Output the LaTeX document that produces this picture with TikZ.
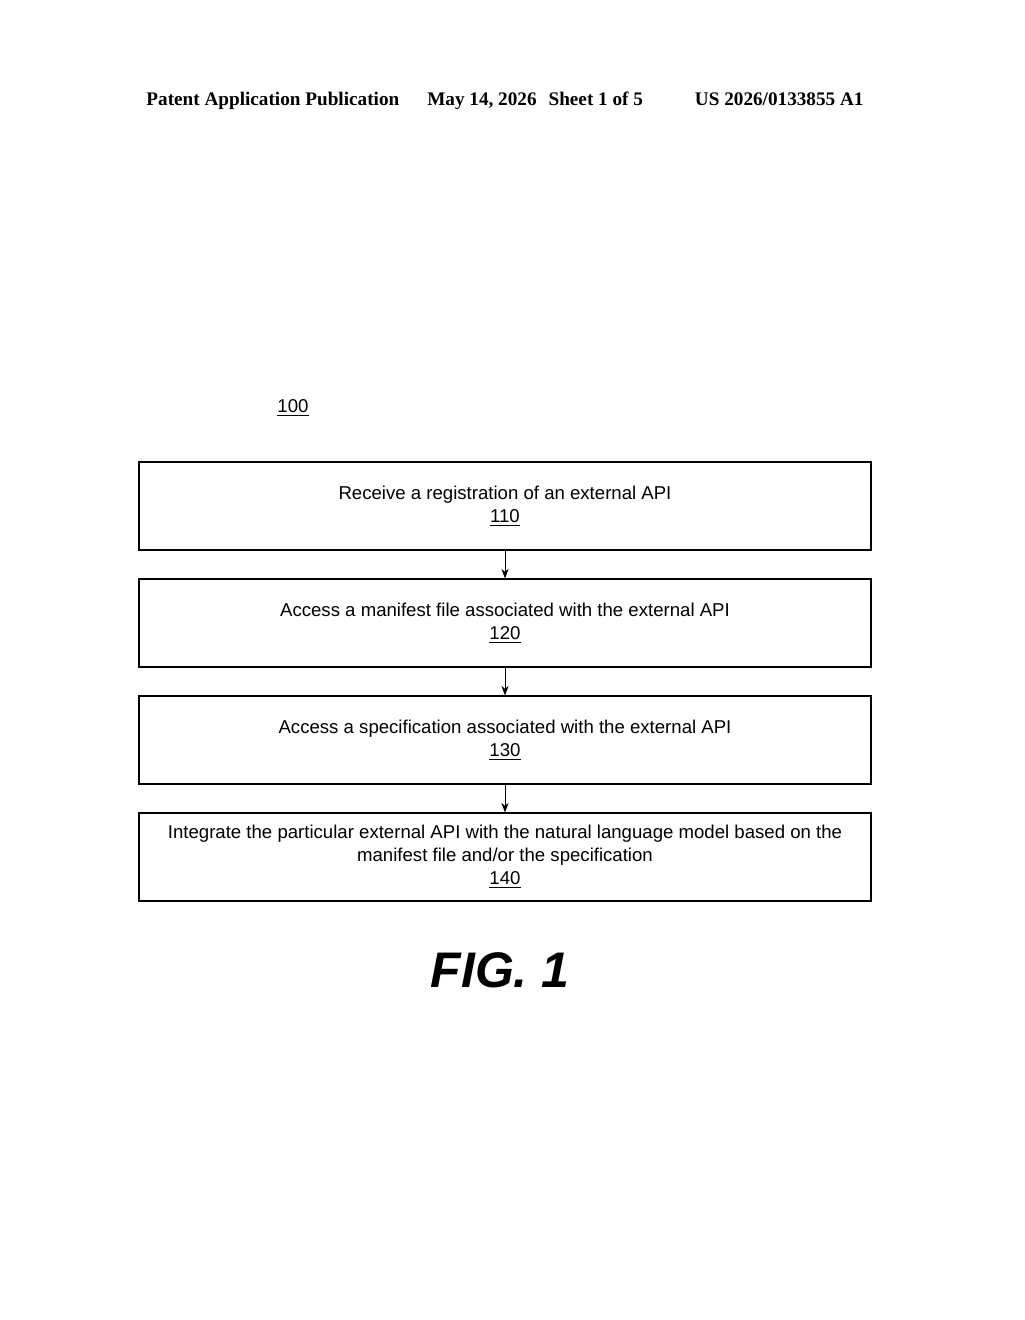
\documentclass[tikz,border=0pt]{standalone}
\usepackage{fontspec}
\setmainfont{Liberation Sans}
\newfontfamily\hdrfont{Liberation Serif}
\usetikzlibrary{positioning}
\usetikzlibrary{arrows.meta}
\tikzset{>=Stealth}
\tikzset{flowstep/.style={draw, line width=0.6pt, minimum width=366pt, minimum height=44pt, align=center, font=\fontsize{9.3}{11.5}\selectfont}}
\begin{document}
\begin{tikzpicture}[x=0.5pt, y=-0.5pt]
                \useasboundingbox (0,0) rectangle (1024,1320);
                % header
                \node[font=\hdrfont\bfseries\fontsize{9.6}{11}\selectfont] (hdr) at (505,101) {Patent Application Publication\hspace{14pt}May 14, 2026\hspace{6pt}Sheet 1 of 5\hspace{26pt}US 2026/0133855 A1};
                \node[font=\fontsize{9.3}{11}\selectfont] (ref) at (293,408) {\underline{100}};

                % steps
                \node[flowstep] (s110) at (505,506) {Receive a registration of an external API\\\underline{110}};
                \node[flowstep] (s120) at (505,623) {Access a manifest file associated with the external API\\\underline{120}};
                \node[flowstep] (s130) at (505,740) {Access a specification associated with the external API\\\underline{130}};
                \node[flowstep] (s140) at (505,857) {Integrate the particular external API with the natural language model based on the\\manifest file and/or the specification\\\underline{140}};

                % arrows
                \draw[->] (s110) -- (s120);
                \draw[->] (s120) -- (s130);
                \draw[->] (s130) -- (s140);

                \node[font=\bfseries\itshape\fontsize{25}{28}\selectfont] (fig) at (500,970) {FIG. 1};
\end{tikzpicture}
\end{document}
